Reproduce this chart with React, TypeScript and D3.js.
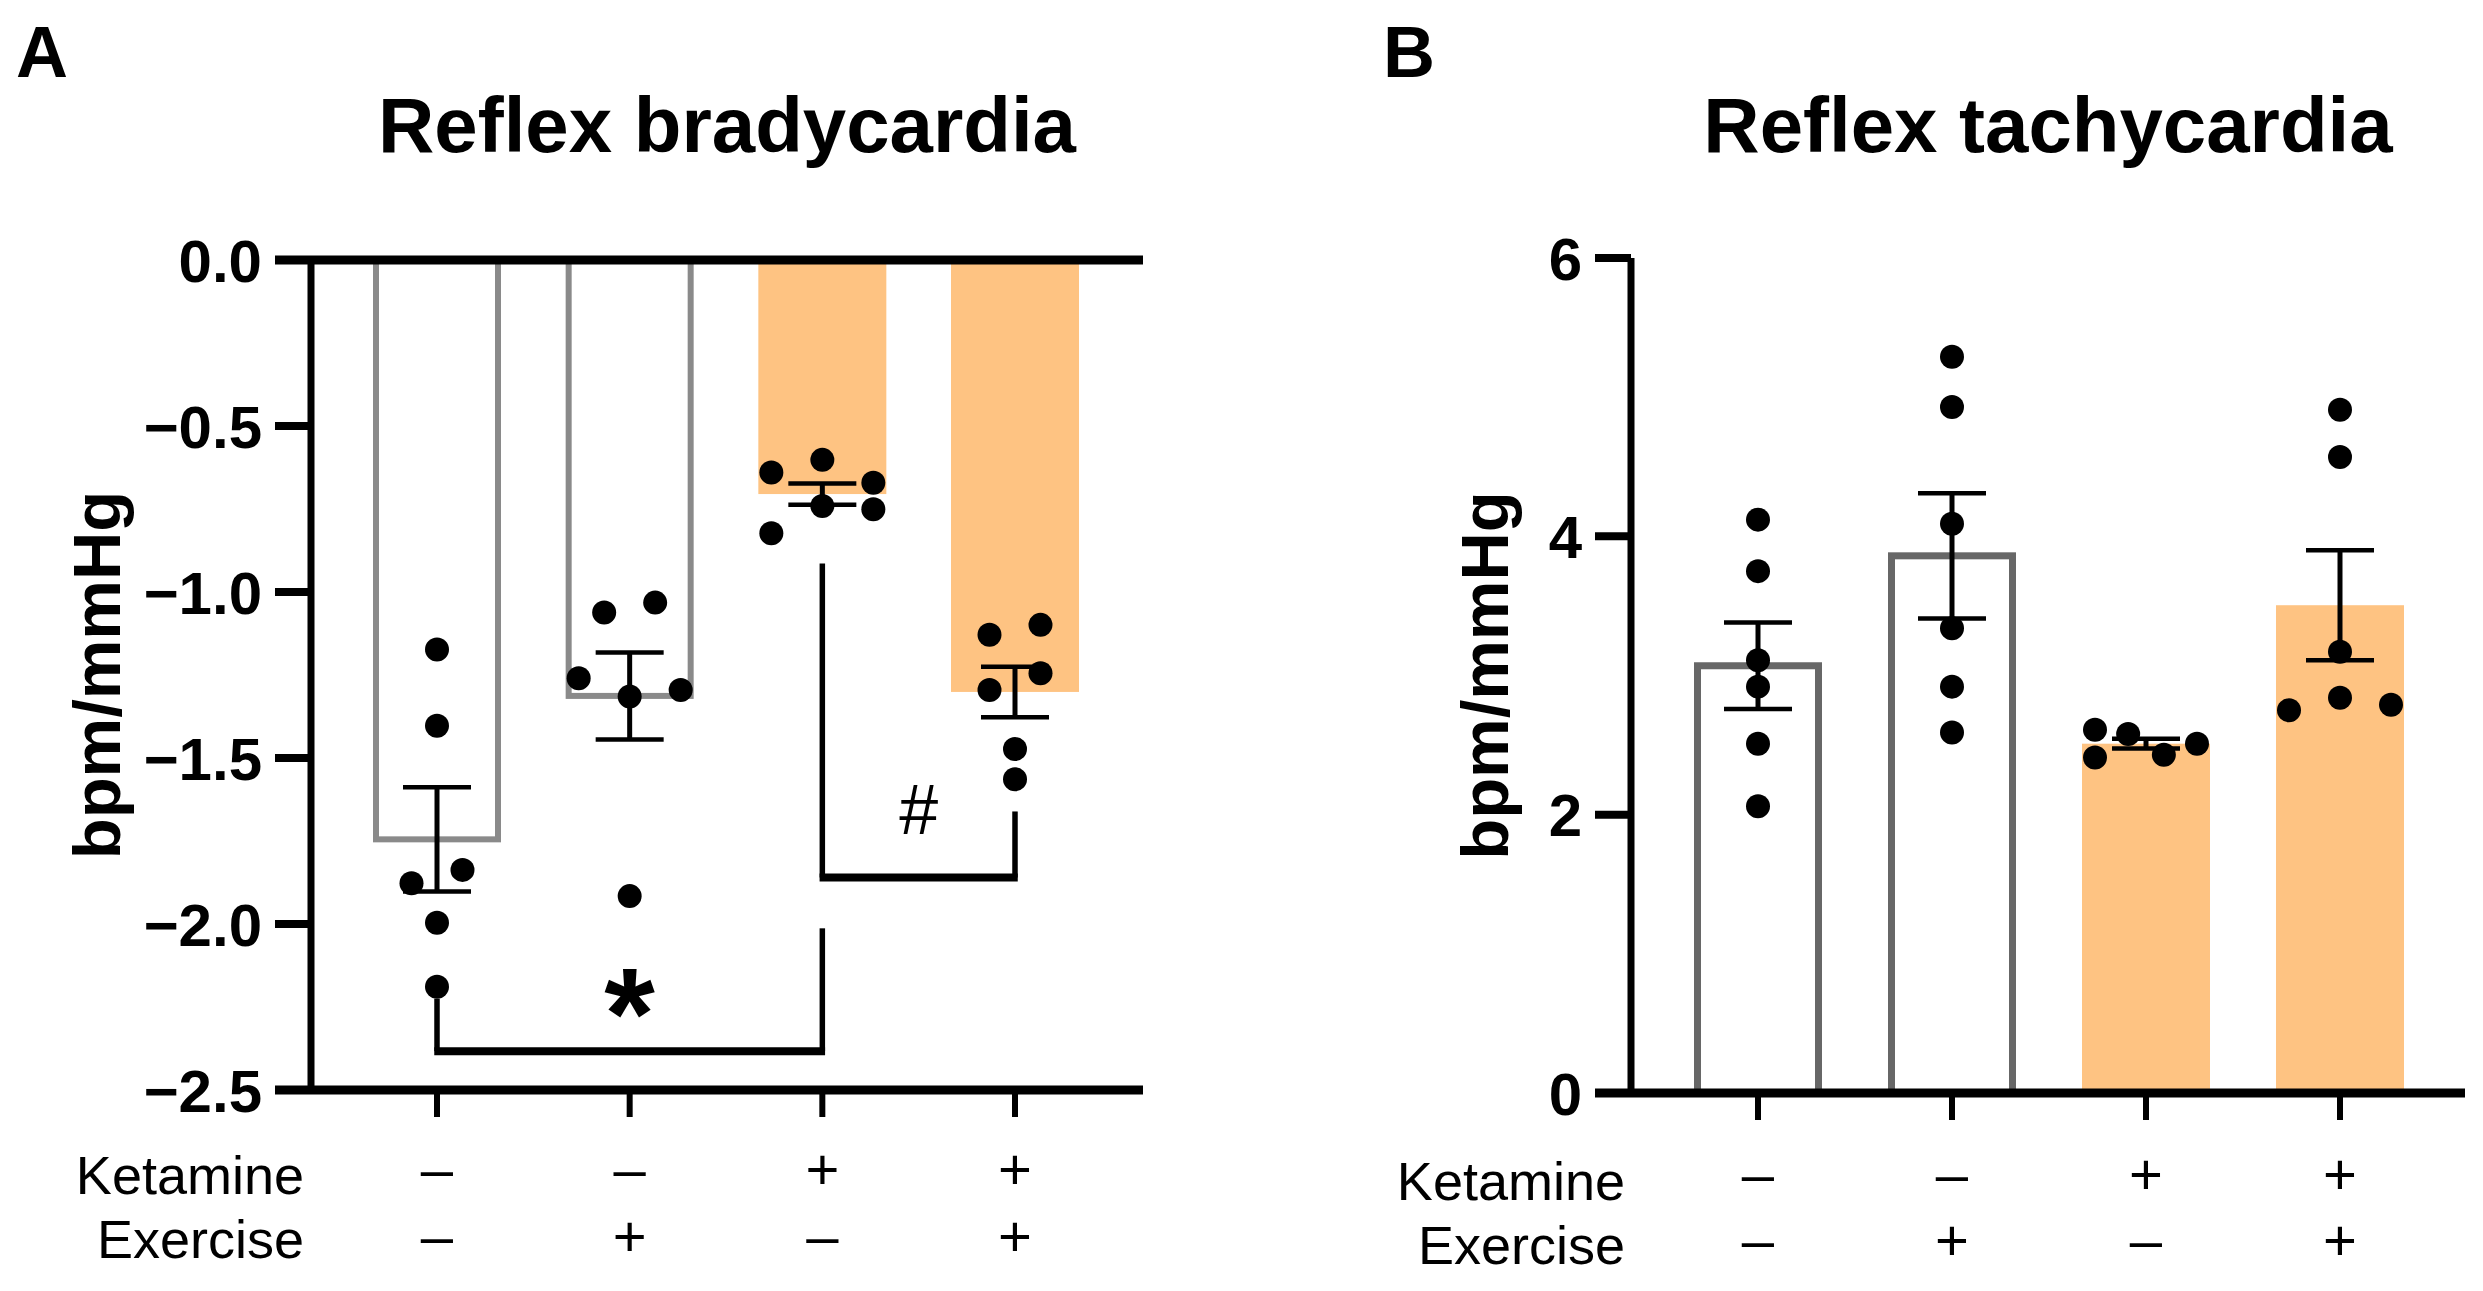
import { useEffect } from "react";
import * as d3 from "d3";

// groups: vehicle/sedentary, vehicle/exercise, ketamine/sedentary, ketamine/exercise
const groups = ["veh-sed", "veh-ex", "ket-sed", "ket-ex"];
const ketamineSigns = ["–", "–", "+", "+"];
const exerciseSigns = ["–", "+", "–", "+"];
const filledBars = [false, false, true, true];

// Panel A: reflex bradycardia (bpm/mmHg)
const bradyMean = [-1.745, -1.313, -0.705, -1.301];
const bradySem = [0.157, 0.131, 0.032, 0.076];
const bradyPoints = [
  [-1.173, -1.403, -1.837, -1.877, -1.996, -2.189],
  [-1.032, -1.062, -1.26, -1.295, -1.315, -1.916],
  [-0.602, -0.64, -0.671, -0.741, -0.751, -0.823],
  [-1.099, -1.129, -1.245, -1.295, -1.473, -1.564],
];
const bradyJitter = [
  [0, 0, 1, -1, 0, 0],
  [1, -1, -2, 2, 0, 0],
  [0, -2, 2, 0, 2, -2],
  [1, -1, 1, -1, 0, 0],
];
const bradyTicks = [0, -0.5, -1, -1.5, -2, -2.5];
const bradyBrackets = [
  { from: 0, to: 2, leftEnd: -2.225, rightEnd: -2.013, level: -2.383, label: "*", labelAt: -2.2, bold: true },
  { from: 2, to: 3, leftEnd: -0.914, rightEnd: -1.661, level: -1.86, label: "#", labelAt: -1.654, bold: false },
];

// Panel B: reflex tachycardia (bpm/mmHg)
const tachyMean = [3.07, 3.86, 2.51, 3.505];
const tachySem = [0.31, 0.45, 0.035, 0.395];
const tachyPoints = [
  [4.12, 3.75, 3.11, 2.92, 2.51, 2.06],
  [5.29, 4.93, 4.09, 3.34, 2.92, 2.59],
  [2.61, 2.41, 2.58, 2.43, 2.51],
  [4.91, 4.57, 3.17, 2.84, 2.75, 2.79],
];
const tachyJitter = [
  [0, 0, 0, 0, 0, 0],
  [0, 0, 0, 0, 0, 0],
  [-2, -2, -0.7, 0.7, 2],
  [0, 0, 0, 0, -2, 2],
];
const tachyTicks = [0, 2, 4, 6];

const FONT = "'Liberation Sans', Arial, Helvetica, sans-serif";
const ORANGE = "#FEC382";
const BAR_W = 128;
const JITTER = 25.5;

type Bracket = {
  from: number; to: number; leftEnd: number; rightEnd: number;
  level: number; label: string; labelAt: number; bold: boolean;
};

interface PanelProps {
  letter: string;
  letterX: number;
  title: string;
  means: number[];
  sems: number[];
  points: number[][];
  jitter: number[][];
  ticks: number[];
  domain: [number, number];
  yRange: [number, number];
  xRange: [number, number];
  axisX: number;
  axisEnd: number;
  tickFormat: string;
  yLabelX: number;
  rowLabelRight: number;
  rowBaselines: [number, number];
  signBaselines: [number, number];
  outline: string;
  outlineWidth: number;
  brackets?: Bracket[];
}

function Panel(p: PanelProps) {
  const y = d3.scaleLinear().domain(p.domain).range(p.yRange);
  const x = d3.scalePoint<string>().domain(groups).range(p.xRange);
  const fmt = d3.format(p.tickFormat);
  const yTop = Math.min(...p.yRange);
  const yBottom = Math.max(...p.yRange);
  const y0 = y(0);
  const tickStart = p.axisX - 36;
  const titleX = (p.axisX + p.axisEnd) / 2;

  return (
    <g fontFamily={FONT}>
      <text x={p.letterX} y={77} fontSize={72} fontWeight={700}>{p.letter}</text>
      <text x={titleX} y={152} fontSize={78} fontWeight={700} textAnchor="middle">{p.title}</text>

      {/* bars */}
      {groups.map((g, i) => {
        const cx = x(g)!;
        const top = Math.min(y0, y(p.means[i]));
        const h = Math.abs(y0 - y(p.means[i]));
        return filledBars[i] ? (
          <rect key={g} x={cx - BAR_W / 2} y={top} width={BAR_W} height={h} fill={ORANGE} />
        ) : (
          <rect key={g} x={cx - (BAR_W - p.outlineWidth) / 2} y={top} width={BAR_W - p.outlineWidth}
            height={h} fill="none" stroke={p.outline} strokeWidth={p.outlineWidth} />
        );
      })}

      {/* axes */}
      {y0 !== yBottom && (
        <line x1={tickStart} x2={p.axisEnd} y1={y0} y2={y0} stroke="#000" strokeWidth={9} />
      )}
      <line x1={tickStart} x2={p.axisEnd} y1={yBottom} y2={yBottom} stroke="#000" strokeWidth={9} />
      <line x1={p.axisX} x2={p.axisX} y1={yTop} y2={yBottom} stroke="#000" strokeWidth={7} />
      {p.ticks.map((t) => (
        <g key={t}>
          <line x1={tickStart} x2={p.axisX} y1={y(t)} y2={y(t)} stroke="#000" strokeWidth={8} />
          <text x={tickStart - 13} y={y(t)} dy="0.36em" fontSize={60} fontWeight={700} textAnchor="end">
            {fmt(t)}
          </text>
        </g>
      ))}
      {groups.map((g) => (
        <line key={g} x1={x(g)} x2={x(g)} y1={yBottom} y2={yBottom + 27} stroke="#000" strokeWidth={6} />
      ))}
      <text transform={`translate(${p.yLabelX},${(yTop + yBottom) / 2}) rotate(-90)`}
        fontSize={67} fontWeight={700} textAnchor="middle">bpm/mmHg</text>

      {/* error bars */}
      {groups.map((g, i) => {
        const cx = x(g)!;
        const hi = y(p.means[i] + p.sems[i]);
        const lo = y(p.means[i] - p.sems[i]);
        return (
          <g key={g} stroke="#000">
            <line x1={cx} x2={cx} y1={hi} y2={lo} strokeWidth={5} />
            <line x1={cx - 34} x2={cx + 34} y1={hi} y2={hi} strokeWidth={4.5} />
            <line x1={cx - 34} x2={cx + 34} y1={lo} y2={lo} strokeWidth={4.5} />
          </g>
        );
      })}

      {/* individual animals */}
      {groups.map((g, i) =>
        p.points[i].map((v, j) => (
          <circle key={`${g}-${j}`} cx={x(g)! + p.jitter[i][j] * JITTER} cy={y(v)} r={12} fill="#000" />
        ))
      )}

      {/* significance brackets */}
      {(p.brackets || []).map((b, k) => {
        const xl = x(groups[b.from])!;
        const xr = x(groups[b.to])!;
        const yl = y(b.level);
        return (
          <g key={k}>
            <line x1={xl} x2={xl} y1={y(b.leftEnd)} y2={yl} stroke="#000" strokeWidth={5.5} />
            <line x1={xr} x2={xr} y1={y(b.rightEnd)} y2={yl} stroke="#000" strokeWidth={5.5} />
            <line x1={xl - 2.75} x2={xr + 2.75} y1={yl} y2={yl} stroke="#000" strokeWidth={8} />
            {b.bold ? (
              <text x={(xl + xr) / 2} y={y(b.labelAt)} dy="0.53em" fontSize={130} fontWeight={700}
                textAnchor="middle">{b.label}</text>
            ) : (
              <text x={(xl + xr) / 2} y={y(b.labelAt)} dy="0.35em" fontSize={70}
                textAnchor="middle">{b.label}</text>
            )}
          </g>
        );
      })}

      {/* treatment rows */}
      <text x={p.rowLabelRight} y={p.rowBaselines[0]} fontSize={54} textAnchor="end">Ketamine</text>
      <text x={p.rowLabelRight} y={p.rowBaselines[1]} fontSize={54} textAnchor="end">Exercise</text>
      {groups.map((g, i) => (
        <g key={g} fontSize={58} textAnchor="middle">
          <text x={x(g)} y={p.signBaselines[0]}>{ketamineSigns[i]}</text>
          <text x={x(g)} y={p.signBaselines[1]}>{exerciseSigns[i]}</text>
        </g>
      ))}
    </g>
  );
}

export default function App() {
  useEffect(() => {
    document.body.style.margin = "0";
  }, []);

  return (
    <svg width={2483} height={1291} style={{ display: "block" }}>
      <rect width={2483} height={1291} fill="#fff" />
      <Panel
        letter="A" letterX={16} title="Reflex bradycardia"
        means={bradyMean} sems={bradySem} points={bradyPoints} jitter={bradyJitter}
        ticks={bradyTicks} domain={[0, -2.5]} yRange={[260, 1090]} xRange={[437, 1015]}
        axisX={311} axisEnd={1143} tickFormat=".1f" yLabelX={120}
        rowLabelRight={304} rowBaselines={[1194, 1258]} signBaselines={[1189, 1256]}
        outline="#8a8a8a" outlineWidth={6} brackets={bradyBrackets}
      />
      <Panel
        letter="B" letterX={1383} title="Reflex tachycardia"
        means={tachyMean} sems={tachySem} points={tachyPoints} jitter={tachyJitter}
        ticks={tachyTicks} domain={[0, 6]} yRange={[1093, 258]} xRange={[1758, 2340]}
        axisX={1631} axisEnd={2465} tickFormat="d" yLabelX={1508}
        rowLabelRight={1625} rowBaselines={[1200, 1264]} signBaselines={[1194, 1260]}
        outline="#676767" outlineWidth={7}
      />
    </svg>
  );
}
